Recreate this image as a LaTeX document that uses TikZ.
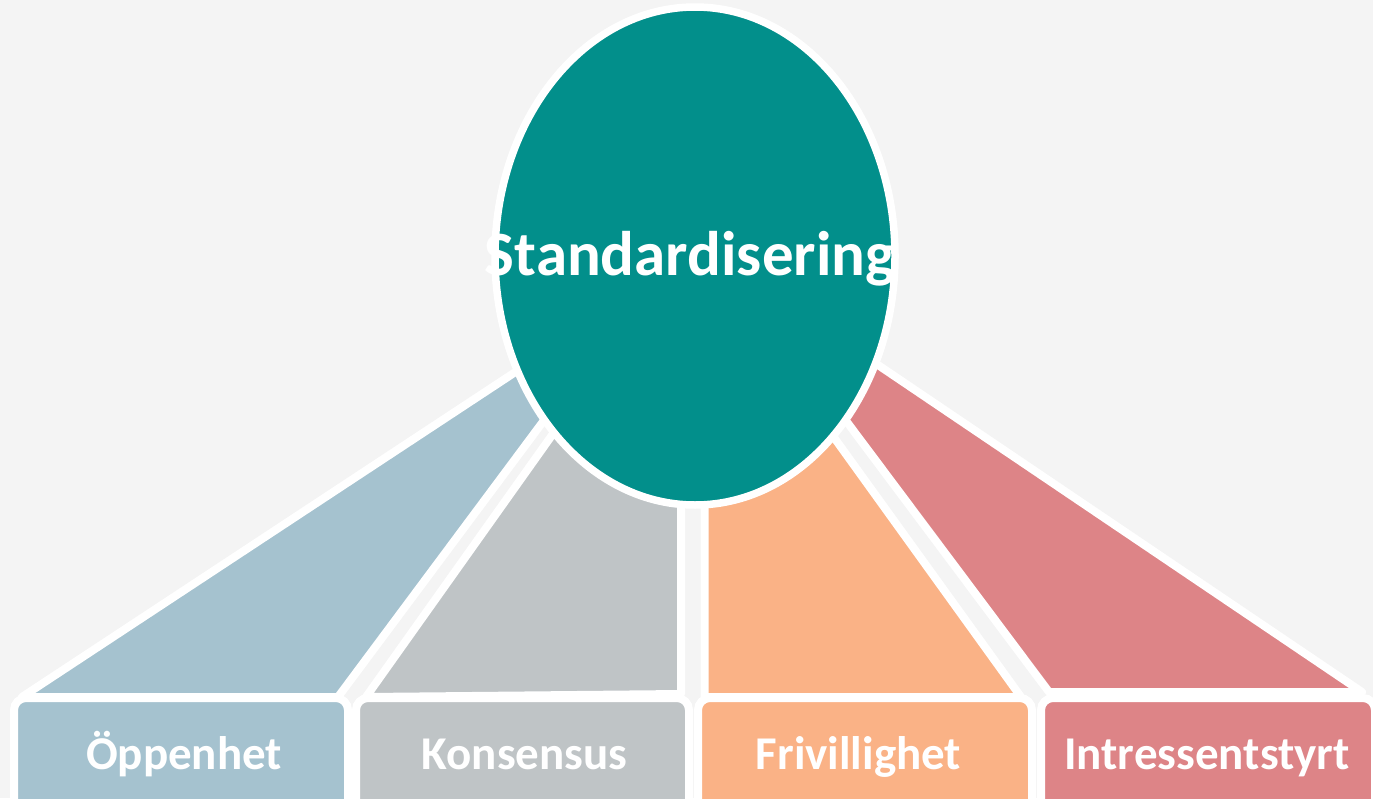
\documentclass[tikz,border=0pt]{standalone}
\usepackage{fontspec}
\setmainfont{Carlito}
\usetikzlibrary{shapes.geometric}
\definecolor{bgc}{HTML}{F4F4F4}
\definecolor{cteal}{HTML}{028F8B}
\definecolor{cblue}{HTML}{A5C2CF}
\definecolor{cgray}{HTML}{BFC4C6}
\definecolor{corange}{HTML}{FAB286}
\definecolor{cred}{HTML}{DD8487}
\begin{document}
\begin{tikzpicture}[x=1pt,y=-1pt,
  facet/.style={draw=white, line width=8pt, line join=round},
  boxstyle/.style={draw=white, line width=8pt, rounded corners=12pt},
  lbl/.style={text=white, font=\bfseries\fontsize{47}{47}\selectfont, anchor=base, inner sep=0pt},
  bigoval/.style={ellipse, draw=white, line width=7.5pt, fill=cteal, minimum width=400pt, minimum height=498pt, inner sep=0pt}]
\useasboundingbox (0,0) rectangle (1373,798);
\fill[bgc] (0,0) rectangle (1373,798);
\begin{scope}
\clip (0,0) rectangle (1373,798);
% facets
\draw[facet, fill=cblue] (22,697) -- (564,340) -- (574,380) -- (338,697) -- cycle;
\draw[facet, fill=cgray] (366,697) -- (577,400) -- (681,480) -- (681,694) -- cycle;
\draw[facet, fill=corange] (704.5,697) -- (704.5,480) -- (807,400) -- (1021,697) -- cycle;
\draw[facet, fill=cred] (1049,692) -- (823,390) -- (841,340) -- (1362,692) -- cycle;
% boxes
\draw[boxstyle, fill=cblue] (14,698) rectangle (348,812);
\draw[boxstyle, fill=cgray] (356,698) rectangle (689,812);
\draw[boxstyle, fill=corange] (698,698) rectangle (1032,812);
\draw[boxstyle, fill=cred] (1041,698) rectangle (1375,812);
\end{scope}
% centre ellipse
\node[bigoval] (oval) at (695,256) {};
\node[text=white, font=\bfseries\fontsize{63}{63}\selectfont, anchor=base, inner sep=0pt] (title) at (690,275) {Standardisering};
% labels
\node[lbl] (l1) at (184,769) {Öppenhet};
\node[lbl] (l2) at (524.5,769) {Konsensus};
\node[lbl] (l3) at (858.5,769) {Frivillighet};
\node[lbl] (l4) at (1207,769) {Intressentstyrt};
\end{tikzpicture}
\end{document}
